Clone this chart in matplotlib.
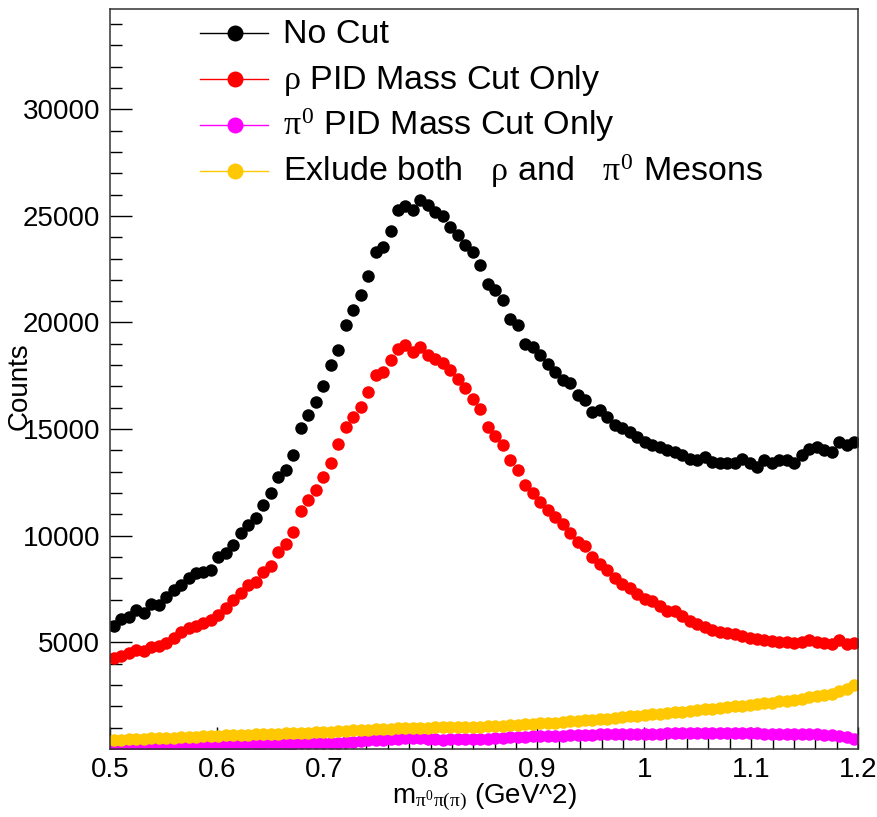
import numpy as np
import matplotlib
matplotlib.use("Agg")
import matplotlib.pyplot as plt
from matplotlib.lines import Line2D

plt.rcParams["font.family"] = ["Liberation Sans", "DejaVu Sans"]
plt.rcParams["mathtext.fontset"] = "custom"
plt.rcParams["mathtext.rm"] = "Liberation Serif"
plt.rcParams["mathtext.it"] = "Liberation Serif"
plt.rcParams["mathtext.bf"] = "Liberation Serif:bold"

# binning of the histograms (100 bins from 0.5 to 1.2)
x_low = 0.5
x_high = 1.2
n_bins = 100

# -----------------------------
# Counts per bin
# -----------------------------
no_cut = [5760, 6090, 6200, 6510, 6370, 6800, 6750, 7140, 7450, 7690,
          8010, 8250, 8310, 8390, 9010, 9180, 9560, 10120, 10500, 10820,
          11430, 12000, 12760, 13070, 13780, 15030, 15650, 16280, 17000, 18000,
          18700, 19870, 20600, 21270, 22160, 23300, 23540, 24290, 25290, 25450,
          25290, 25730, 25490, 25180, 24980, 24480, 24090, 23620, 23300, 22680,
          21820, 21510, 21040, 20180, 19870, 19010, 18850, 18460, 18070, 17680,
          17290, 17140, 16590, 16350, 15810, 15890, 15570, 15180, 15030, 14870,
          14640, 14400, 14250, 14170, 14010, 13930, 13780, 13620, 13540, 13700,
          13460, 13390, 13420, 13390, 13620, 13390, 13230, 13540, 13390, 13540,
          13540, 13390, 13780, 14090, 14170, 14010, 13930, 14400, 14250, 14400]

rho_cut = [4250, 4380, 4510, 4660, 4580, 4800, 4820, 4950, 5200, 5500,
           5680, 5780, 5920, 6070, 6280, 6620, 6980, 7330, 7680, 7830,
           8280, 8590, 9250, 9600, 10180, 11150, 11670, 12150, 12760, 13400,
           14300, 15100, 15570, 16050, 16750, 17550, 17680, 18230, 18780, 18950,
           18620, 18850, 18460, 18280, 18100, 17760, 17350, 16950, 16400, 15950,
           15100, 14700, 14250, 13540, 13100, 12400, 12000, 11600, 11200, 10900,
           10550, 10150, 9700, 9520, 9000, 8680, 8400, 8000, 7750, 7550,
           7250, 7050, 6950, 6700, 6450, 6450, 6230, 6020, 5880, 5720,
           5580, 5500, 5430, 5400, 5280, 5200, 5160, 5100, 5050, 5020,
           5000, 4950, 5040, 5100, 5000, 4950, 4920, 5100, 4930, 4980]

pi0_cut = [150, 150, 160, 160, 170, 170, 170, 180, 180, 180,
           190, 190, 200, 200, 200, 210, 210, 220, 220, 230,
           230, 240, 240, 250, 250, 260, 260, 270, 270, 280,
           300, 320, 350, 380, 400, 420, 440, 460, 480, 500,
           510, 500, 480, 460, 440, 450, 460, 470, 470, 480,
           490, 500, 520, 540, 560, 580, 590, 600, 610, 620,
           630, 640, 650, 660, 670, 680, 690, 700, 700, 710,
           710, 720, 720, 720, 730, 730, 730, 740, 740, 740,
           740, 740, 740, 740, 730, 730, 730, 720, 720, 720,
           710, 700, 700, 690, 680, 670, 650, 620, 560, 470]

both_cut = [420, 440, 460, 470, 480, 500, 510, 520, 530, 540,
            560, 580, 600, 620, 630, 640, 660, 660, 670, 680,
            690, 700, 720, 730, 740, 760, 770, 790, 800, 810,
            830, 850, 870, 890, 910, 930, 950, 960, 970, 980,
            990, 1000, 1000, 1010, 1020, 1020, 1030, 1030, 1040, 1040,
            1060, 1080, 1100, 1120, 1140, 1160, 1180, 1200, 1220, 1240,
            1260, 1290, 1310, 1340, 1370, 1400, 1430, 1460, 1500, 1530,
            1560, 1600, 1630, 1660, 1700, 1720, 1750, 1790, 1820, 1860,
            1890, 1930, 1960, 2000, 2030, 2070, 2100, 2140, 2180, 2230,
            2270, 2300, 2350, 2420, 2490, 2550, 2600, 2700, 2820, 2980]

series_labels = ["No Cut",
                 r"$\rho$ PID Mass Cut Only",
                 r"$\pi^{0}$ PID Mass Cut Only",
                 r"Exlude both   $\rho$ and   $\pi^{0}$ Mesons"]
series_colors = ["#000000", "#ff0000", "#ff00ff", "#ffc800"]

edges = np.linspace(x_low, x_high, n_bins + 1)
centers = 0.5 * (edges[:-1] + edges[1:])

# -----------------------------
# Figure
# -----------------------------
W, H = 877, 817
fig = plt.figure(figsize=(W / 100, H / 100), dpi=100)
ax = fig.add_axes([110 / W, 1 - 749 / H, 748 / W, 740 / H])

for vals, col in zip([no_cut, rho_cut, pi0_cut, both_cut], series_colors):
    ax.plot(centers, vals, linestyle="none", marker="o", markersize=9,
            markeredgewidth=0, color=col, clip_on=True)

ax.set_xlim(x_low, x_high)
ax.set_ylim(0, 34700)

ax.set_xticks([0.5, 0.6, 0.7, 0.8, 0.9, 1.0, 1.1, 1.2])
ax.set_xticklabels(["0.5", "0.6", "0.7", "0.8", "0.9", "1", "1.1", "1.2"])
ax.set_xticks(np.arange(0.52, 1.2, 0.02), minor=True)
ax.set_yticks([5000, 10000, 15000, 20000, 25000, 30000])
ax.set_yticks(np.arange(1000, 34001, 1000), minor=True)

ax.tick_params(axis="both", which="both", direction="in", top=False, right=False,
               labelsize=20, width=1)
ax.tick_params(axis="both", which="major", length=16)
ax.tick_params(axis="x", which="minor", length=8)
ax.tick_params(axis="y", which="minor", length=8.5)
ax.tick_params(axis="x", which="major", pad=6)
ax.tick_params(axis="y", which="major", pad=7)
for sp in ax.spines.values():
    sp.set_linewidth(1.1)
    sp.set_color("#333333")

# axis titles (ROOT style)
fig.text(484 / W, 1 - 803 / H, r"m$_{\pi^{0}\pi(\pi)}$ (GeV^2)", fontsize=20,
         ha="center", va="baseline")
fig.text(20 / W, 1 - 386 / H, "Counts", fontsize=20, rotation=90,
         ha="center", va="center")

# -----------------------------
# Legend, drawn row by row like the TLegend
# -----------------------------
row_y = [33, 79, 125, 171]
for lab, col, ry in zip(series_labels, series_colors, row_y):
    yf = 1 - ry / H
    fig.add_artist(Line2D([200 / W, 268 / W], [yf, yf], color=col, lw=1,
                          transform=fig.transFigure))
    fig.add_artist(Line2D([235 / W], [yf], color=col, marker="o", markersize=11.5,
                          markeredgewidth=0, transform=fig.transFigure))
    fig.text(283 / W, 1 - (ry + 10) / H, lab, fontsize=24.5, ha="left",
             va="baseline")

plt.savefig("out.png", dpi=100)
